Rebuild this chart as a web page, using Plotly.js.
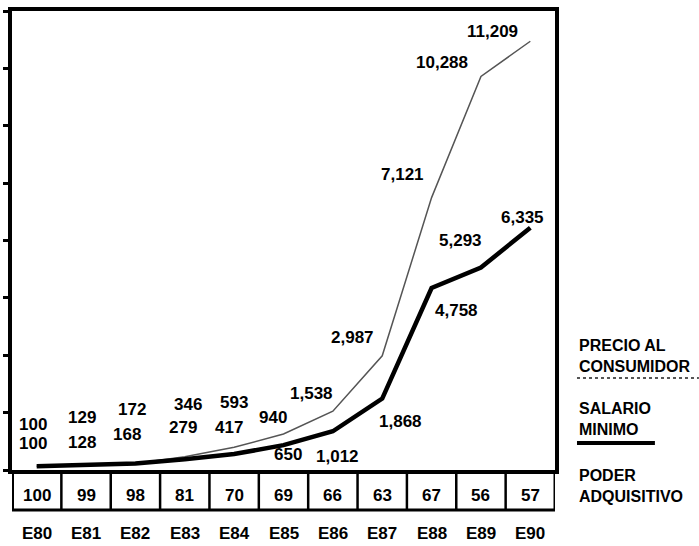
<!DOCTYPE html>
<html>
<head>
<meta charset="utf-8">
<script src="https://cdn.plot.ly/plotly-3.0.1.min.js"></script>
<style>html,body{margin:0;padding:0;background:#fff;}#chart{width:699px;height:546px;}</style>
</head>
<body>
<div id="chart"></div>
<script>
// ---- data ----
const years   = ['E80','E81','E82','E83','E84','E85','E86','E87','E88','E89','E90'];
const precio  = [100, 129, 172, 346, 593, 940, 1538, 2987, 7121, 10288, 11209];
const salario = [100, 128, 168, 279, 417, 650, 1012, 1868, 4758, 5293, 6335];
const poder   = [100, 99, 98, 81, 70, 69, 66, 63, 67, 56, 57];
const legendPrecio  = ['PRECIO AL', 'CONSUMIDOR'];
const legendSalario = ['SALARIO', 'MINIMO'];
const legendPoder   = ['PODER', 'ADQUISITIVO'];

// ---- label offsets (pixels) ----
const precioShift  = [[-4,42],[-4,48],[-3,54],[3,52],[0,45],[-11,17],[-21,18],[-30,18],[-29,23],[-39,14],[-38,10]];
const salarioShift = [[-4,23],[-4,23],[-8,29],[-2,32],[-5,27],[4,-9],[5,-25],[18,-23],[25,-22],[-20,27],[-8,10]];

const FONT = 'Liberation Sans, Arial, Helvetica, sans-serif';
const fmt = v => v.toLocaleString('en-US');

const traces = [
  {x: years, y: precio, type: 'scatter', mode: 'lines',
   line: {color: '#555', width: 1.5}, hoverinfo: 'skip', showlegend: false},
  {x: years, y: salario, type: 'scatter', mode: 'lines',
   line: {color: '#000', width: 4.5}, hoverinfo: 'skip', showlegend: false}
];

const annotations = [];
const lblFont = {family: FONT, size: 17, color: '#000', weight: 700};
years.forEach((yr, i) => {
  annotations.push({x: yr, y: precio[i], xref: 'x', yref: 'y', text: fmt(precio[i]),
    showarrow: false, xshift: precioShift[i][0], yshift: precioShift[i][1], font: lblFont});
  annotations.push({x: yr, y: salario[i], xref: 'x', yref: 'y', text: fmt(salario[i]),
    showarrow: false, xshift: salarioShift[i][0], yshift: salarioShift[i][1], font: lblFont});
  annotations.push({x: yr, y: -0.0545, xref: 'x', yref: 'paper', text: String(poder[i]),
    showarrow: false, yanchor: 'middle', font: lblFont});
  annotations.push({x: yr, y: -0.138, xref: 'x', yref: 'paper', text: yr,
    showarrow: false, yanchor: 'middle', font: {family: FONT, size: 17, color: '#000', weight: 700}});
});

const legFont = {family: FONT, size: 16, color: '#000', weight: 700};
const legY = [0.2475, 0.1105, -0.0345];
[legendPrecio, legendSalario, legendPoder].forEach((lines, k) => {
  annotations.push({x: 1.0405, y: legY[k], xref: 'paper', yref: 'paper', text: lines.join('<br>'),
    showarrow: false, xanchor: 'left', yanchor: 'middle', align: 'left', font: legFont});
});

const shapes = [];
const boxBottom = -0.0871;
// bottom of box row
shapes.push({type: 'line', xref: 'x', yref: 'paper', x0: -0.5, x1: 10.5, y0: boxBottom, y1: boxBottom,
  line: {color: '#000', width: 3}});
// left and right edges of box row
shapes.push({type: 'line', xref: 'x', yref: 'paper', x0: -0.5, x1: -0.5, y0: 0, y1: boxBottom,
  line: {color: '#000', width: 4}});
shapes.push({type: 'line', xref: 'x', yref: 'paper', x0: 10.5, x1: 10.5, y0: 0, y1: boxBottom,
  line: {color: '#000', width: 3}});
for (let i = 0; i < years.length - 1; i++) {
  shapes.push({type: 'line', xref: 'x', yref: 'paper', x0: i + 0.5, x1: i + 0.5, y0: 0, y1: boxBottom,
    line: {color: '#000', width: 2.5}});
}
// legend line samples
shapes.push({type: 'line', xref: 'paper', yref: 'paper', x0: 1.0405, x1: 1.265, y0: 0.2004, y1: 0.2004,
  line: {color: '#555', width: 2, dash: 'dot'}});
shapes.push({type: 'line', xref: 'paper', yref: 'paper', x0: 1.0405, x1: 1.184, y0: 0.0588, y1: 0.0588,
  line: {color: '#000', width: 4}});

const layout = {
  width: 699, height: 546,
  margin: {l: 12, r: 144, t: 11, b: 76},
  paper_bgcolor: '#fff', plot_bgcolor: '#fff',
  showlegend: false,
  xaxis: {type: 'category', range: [-0.5, 10.5], showgrid: false, zeroline: false,
    showticklabels: false, ticks: '', showline: true, linecolor: '#000', linewidth: 4, mirror: true,
    fixedrange: true},
  yaxis: {range: [0, 12000], dtick: 1500, tick0: 0, showgrid: false, zeroline: false,
    showticklabels: false, ticks: 'outside', ticklen: 5, tickwidth: 3, tickcolor: '#000',
    showline: true, linecolor: '#000', linewidth: 4, mirror: true, fixedrange: true},
  annotations: annotations,
  shapes: shapes
};

Plotly.newPlot('chart', traces, layout, {displayModeBar: false, staticPlot: true});
</script>
</body>
</html>
